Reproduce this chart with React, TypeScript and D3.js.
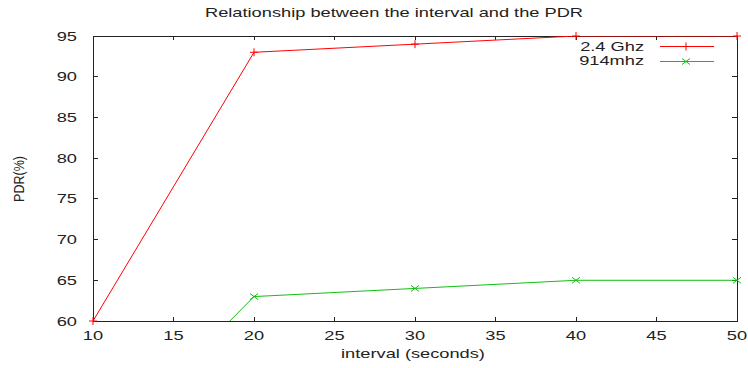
import React from "react";
import * as d3 from "d3";

const intervals = [10, 20, 30, 40, 50];
const pdr24 = [60, 93, 94, 95, 95];
const pdr914 = [43, 63, 64, 65, 65];
const xTicks = [10, 15, 20, 25, 30, 35, 40, 45, 50];
const yTicks = [60, 65, 70, 75, 80, 85, 90, 95];
const seriesNames = ["2.4 Ghz", "914mhz"];
const titleText = "Relationship between the interval and the PDR";
const xLabel = "interval (seconds)";
const yLabel = "PDR(%)";

const W = 748;
const H = 368;
const M = { left: 93, right: 737, top: 36, bottom: 321 };
const FONT = "'Liberation Sans', Arial, sans-serif";
const FS = 12.5;
const SX = 1.46; // wide glyphs

// text drawn with horizontally stretched glyphs
function WideText(props: {
  x: number;
  y: number;
  anchor?: "start" | "middle" | "end";
  children: React.ReactNode;
}) {
  return (
    <text
      transform={`translate(${props.x},${props.y}) scale(${SX},1)`}
      textAnchor={props.anchor || "start"}
      fontSize={FS}
      fill="#222"
    >
      {props.children}
    </text>
  );
}

export default function App() {
  const x = d3.scaleLinear().domain([10, 50]).range([M.left, M.right]);
  const y = d3.scaleLinear().domain([60, 95]).range([M.bottom, M.top]);
  const line = d3
    .line<[number, number]>()
    .x((d) => x(d[0]))
    .y((d) => y(d[1]));

  const s1: [number, number][] = intervals.map((v, i) => [v, pdr24[i]]);
  const s2: [number, number][] = intervals.map((v, i) => [v, pdr914[i]]);
  const red = "#ff0000";
  const green = "#10c010";

  const plus = (cx: number, cy: number, c: string, k: string) => (
    <g key={k} stroke={c} strokeWidth={1}>
      <line x1={cx - 4} x2={cx + 4} y1={cy} y2={cy} />
      <line x1={cx} x2={cx} y1={cy - 4} y2={cy + 4} />
    </g>
  );
  const cross = (cx: number, cy: number, c: string, k: string) => (
    <g key={k} stroke={c} strokeWidth={1}>
      <line x1={cx - 4} x2={cx + 4} y1={cy - 3} y2={cy + 3} />
      <line x1={cx - 4} x2={cx + 4} y1={cy + 3} y2={cy - 3} />
    </g>
  );

  const inRange = (d: [number, number]) => d[1] >= 60 && d[1] <= 95;

  return (
    <svg
      width={W}
      height={H}
      style={{ position: "absolute", left: 0, top: 0, background: "#fff" }}
      fontFamily={FONT}
    >
      <defs>
        <clipPath id="plotClip">
          <rect x={M.left} y={M.top} width={M.right - M.left} height={M.bottom - M.top} />
        </clipPath>
      </defs>
      <rect width={W} height={H} fill="#fff" />

      {/* tick marks on all four sides */}
      <g stroke="#222" strokeWidth={1} shapeRendering="crispEdges">
        {xTicks.map((t) => (
          <g key={"xt" + t}>
            <line x1={x(t)} x2={x(t)} y1={M.bottom} y2={M.bottom - 4} />
            <line x1={x(t)} x2={x(t)} y1={M.top} y2={M.top + 4} />
          </g>
        ))}
        {yTicks.map((t) => (
          <g key={"yt" + t}>
            <line x1={M.left} x2={M.left + 5} y1={y(t)} y2={y(t)} />
            <line x1={M.right} x2={M.right - 5} y1={y(t)} y2={y(t)} />
          </g>
        ))}
        <rect
          x={M.left}
          y={M.top}
          width={M.right - M.left}
          height={M.bottom - M.top}
          fill="none"
        />
      </g>

      {/* tick labels */}
      {xTicks.map((t) => (
        <WideText key={"xl" + t} x={x(t)} y={340} anchor="middle">
          {t}
        </WideText>
      ))}
      {yTicks.map((t) => (
        <WideText key={"yl" + t} x={77} y={y(t) + 4.5} anchor="end">
          {t}
        </WideText>
      ))}

      {/* series */}
      <g clipPath="url(#plotClip)" fill="none">
        <path d={line(s1) || ""} stroke={red} strokeWidth={1} />
        <path d={line(s2) || ""} stroke={green} strokeWidth={1} />
      </g>
      {s1.filter(inRange).map((d, i) => plus(x(d[0]), y(d[1]), red, "p" + i))}
      {s2.filter(inRange).map((d, i) => cross(x(d[0]), y(d[1]), green, "c" + i))}

      {/* legend */}
      <WideText x={644} y={50.5} anchor="end">{seriesNames[0]}</WideText>
      <WideText x={644} y={65} anchor="end">{seriesNames[1]}</WideText>
      <line x1={660} x2={714} y1={46.5} y2={46.5} stroke={red} />
      {plus(686, 46.5, red, "lp")}
      <line x1={660} x2={714} y1={61.5} y2={61.5} stroke={green} />
      {cross(686, 61.5, green, "lc")}

      {/* titles */}
      <WideText x={394} y={17} anchor="middle">{titleText}</WideText>
      <WideText x={413} y={358} anchor="middle">{xLabel}</WideText>
      <text
        transform={`translate(24, ${179}) rotate(-90) scale(1,1.2)`}
        textAnchor="middle"
        fontSize={FS}
        fill="#222"
      >
        {yLabel}
      </text>
    </svg>
  );
}
